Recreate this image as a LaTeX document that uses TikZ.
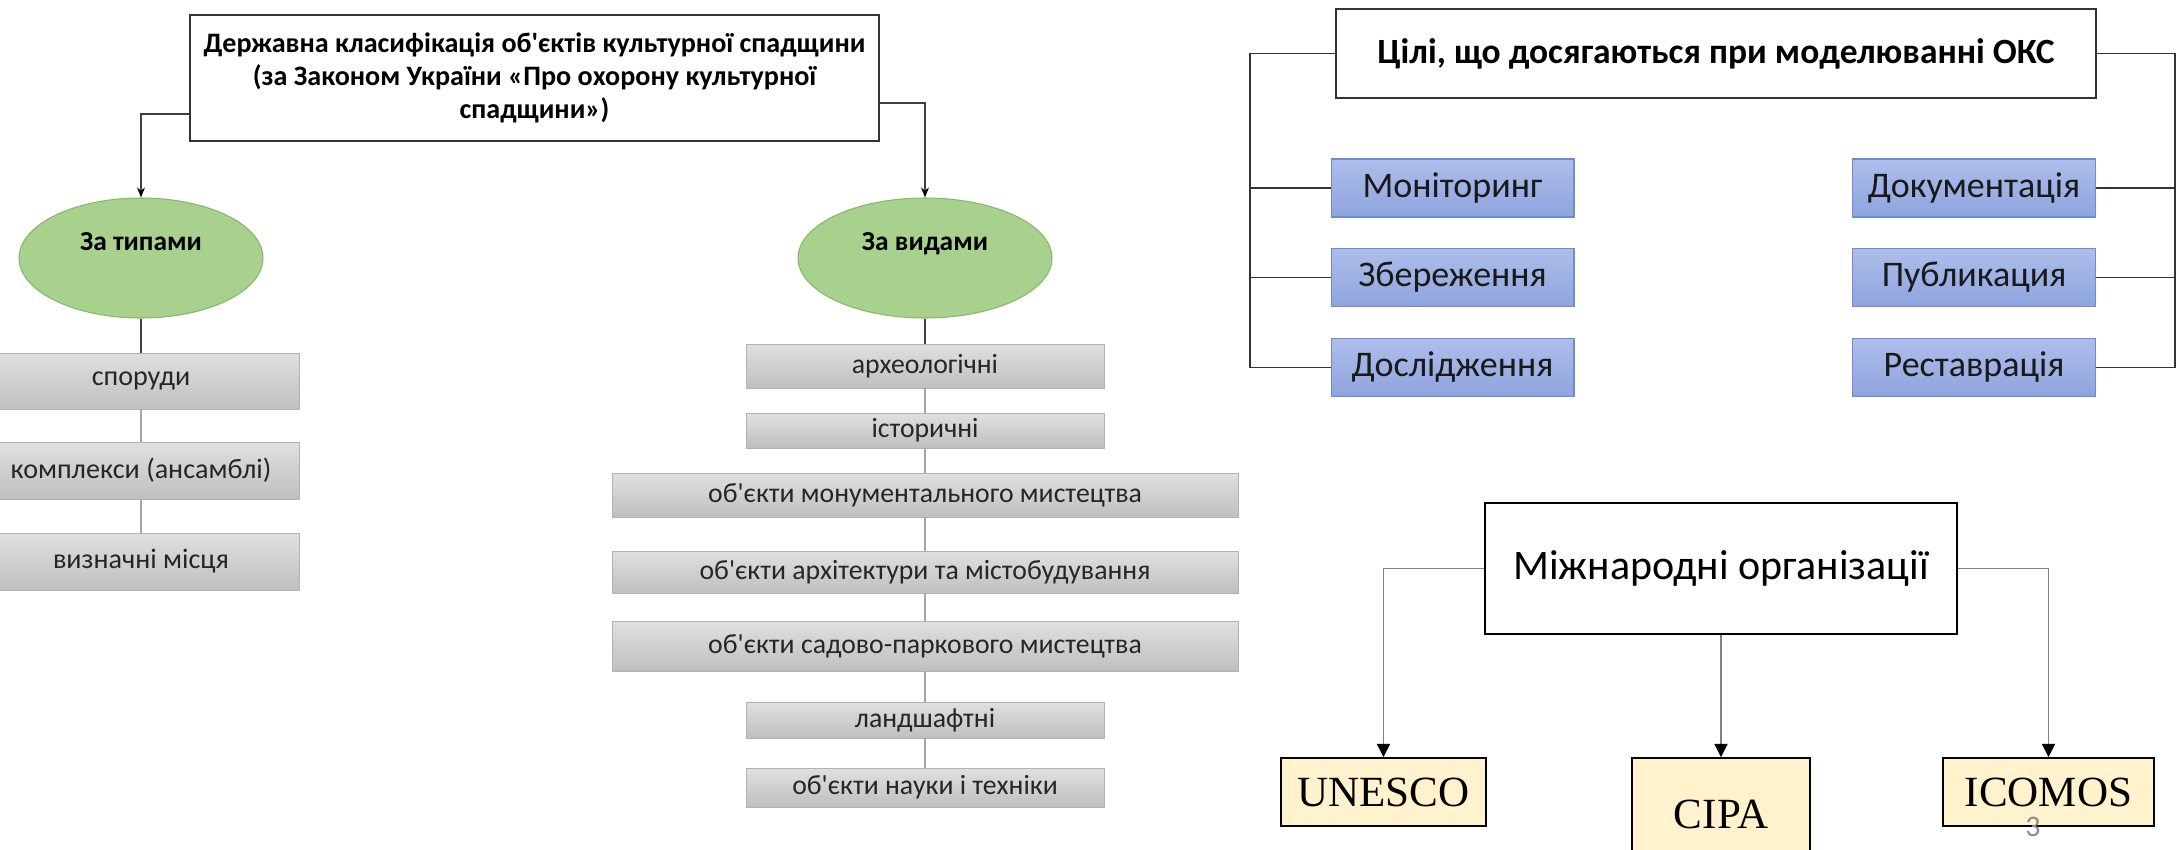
\documentclass[tikz,border=0pt]{standalone}
\usepackage{fontspec}
\setmainfont{Carlito}
\newfontfamily\timesfont{Liberation Serif}
\usetikzlibrary{calc, arrows.meta, positioning, shapes.geometric}
\definecolor{leafgreen}{RGB}{169,209,142}
\definecolor{leafedge}{RGB}{135,182,108}
\definecolor{bluetop}{RGB}{174,190,235}
\definecolor{bluebot}{RGB}{141,164,221}
\definecolor{blueedge}{RGB}{112,138,204}
\definecolor{graytop}{RGB}{224,224,224}
\definecolor{graybot}{RGB}{191,191,191}
\definecolor{cream}{RGB}{255,242,204}

\begin{document}
\begin{tikzpicture}[x=0.02cm, y=-0.02cm,
  headbox/.style={draw=black!80, line width=1.1pt, fill=white, align=center, inner sep=0pt},
  oval/.style={ellipse, draw=leafedge, fill=leafgreen, line width=0.6pt, minimum height=2.4cm, inner sep=0pt, text depth=19pt, font=\bfseries\fontsize{15.6}{18}\selectfont},
  itembox/.style={draw=black!30, line width=0.5pt, top color=graytop, bottom color=graybot, inner sep=0pt, text=black!85},
  aimbox/.style={draw=blueedge, line width=0.6pt, top color=bluetop, bottom color=bluebot, minimum width=4.86cm, minimum height=1.16cm, inner sep=0pt, text=black!90, font=\fontsize{20.5}{24}\selectfont},
  orgbox/.style={draw=black, line width=1.1pt, fill=cream, inner sep=0pt, font=\timesfont\fontsize{24.5}{28}\selectfont},
  linkline/.style={draw=black!75, line width=0.8pt},
  faintline/.style={draw=black!35, line width=0.6pt},
  barline/.style={draw=black!80, line width=1.1pt},
  feedline/.style={draw=black!50, line width=0.7pt},
  smalltip/.style={-{Stealth[length=5.7pt, width=4.5pt, color=black]}},
  bigtip/.style={-{Triangle[length=7.5pt, width=7.5pt, color=black]}}]

  \useasboundingbox (0,0) rectangle (2181,849);

  % classification
  \node[headbox, minimum width=13.78cm, minimum height=2.52cm, font=\bfseries\fontsize{16}{18.8}\selectfont] (law) at (534.5,78)
    {Державна класифікація об\textquotesingle єктів культурної спадщини\\(за Законом України «Про охорону культурної\\спадщини»)};
  \node[oval, minimum width=4.88cm] (types) at (141,258) {За типами};
  \node[oval, minimum width=5.08cm] (kinds) at (925,258) {За видами};
  \draw[linkline, smalltip] ($(law.west)+(0,36)$) -| (types.north);
  \draw[linkline, smalltip] ($(law.east)+(0,25)$) -| (kinds.north);

  \node[itembox, minimum width=6.32cm, minimum height=1.12cm, font=\fontsize{16}{18}\selectfont] (t1) at (141,381) {споруди};
  \node[itembox, minimum width=6.32cm, minimum height=1.14cm, font=\fontsize{16}{18}\selectfont] (t2) at (141,470.5) {комплекси (ансамблі)};
  \node[itembox, minimum width=6.32cm, minimum height=1.14cm, font=\fontsize{16}{18}\selectfont] (t3) at (141,561.5) {визначні місця};
  \draw[linkline] (types.south) -- (t1.north);
  \draw[faintline] (t1) -- (t2);
  \draw[faintline] (t2) -- (t3);

  \node[itembox, minimum width=7.16cm, minimum height=0.88cm, font=\fontsize{15.8}{17}\selectfont] (k1) at (925,366) {археологічні};
  \node[itembox, minimum width=7.16cm, minimum height=0.70cm, font=\fontsize{15.8}{17}\selectfont] (k2) at (925,430.5) {історичні};
  \node[itembox, minimum width=12.52cm, minimum height=0.88cm, font=\fontsize{15.8}{17}\selectfont] (k3) at (925,495) {об\textquotesingle єкти монументального мистецтва};
  \node[itembox, minimum width=12.52cm, minimum height=0.84cm, font=\fontsize{15.8}{17}\selectfont] (k4) at (925,572) {об\textquotesingle єкти архітектури та містобудування};
  \node[itembox, minimum width=12.52cm, minimum height=1.00cm, font=\fontsize{15.8}{17}\selectfont] (k5) at (925,646) {об\textquotesingle єкти садово-паркового мистецтва};
  \node[itembox, minimum width=7.16cm, minimum height=0.72cm, font=\fontsize{15.8}{17}\selectfont] (k6) at (925,720) {ландшафтні};
  \node[itembox, minimum width=7.16cm, minimum height=0.78cm, font=\fontsize{15.8}{17}\selectfont] (k7) at (925,787.5) {об\textquotesingle єкти науки і техніки};
  \draw[linkline] (kinds.south) -- (k1.north);
  \draw[faintline] (k1) -- (k2);
  \draw[faintline] (k2) -- (k3);
  \draw[faintline] (k3) -- (k4);
  \draw[faintline] (k4) -- (k5);
  \draw[faintline] (k5) -- (k6);
  \draw[faintline] (k6) -- (k7);

  % aims
  \node[headbox, minimum width=15.2cm, minimum height=1.78cm, font=\bfseries\fontsize{20.2}{23}\selectfont] (aims) at (1716,53.5)
    {Цілі, що досягаються при моделюванні ОКС};
  \node[aimbox] (mon) at (1452.5,188) {Моніторинг};
  \node[aimbox] (sav) at (1452.5,277.5) {Збереження};
  \node[aimbox] (res) at (1452.5,367.5) {Дослідження};
  \node[aimbox] (doc) at (1974,188) {Документація};
  \node[aimbox] (pub) at (1974,277.5) {Публикация};
  \node[aimbox] (rst) at (1974,367.5) {Реставрація};
  \coordinate (lbar) at (1250,0);
  \coordinate (rbar) at (2175,0);
  \draw[barline] (aims.west) -- (aims.west -| lbar) |- (res.west);
  \draw[barline] (mon.west) -- (mon.west -| lbar);
  \draw[barline] (sav.west) -- (sav.west -| lbar);
  \draw[barline] (aims.east) -- (aims.east -| rbar) |- (rst.east);
  \draw[barline] (doc.east) -- (doc.east -| rbar);
  \draw[barline] (pub.east) -- (pub.east -| rbar);

  % organisations
  \node[draw=black, line width=1.5pt, fill=white, inner sep=0pt, minimum width=9.44cm, minimum height=2.62cm, font=\fontsize{23.9}{27}\selectfont] (intl) at (1721,568.5) {Міжнародні організації};
  \node[orgbox, minimum width=4.1cm, minimum height=1.36cm] (unesco) at (1383.5,792) {UNESCO};
  \node[orgbox, minimum width=3.56cm, minimum height=2.24cm] (cipa) at (1721,814) {CIPA};
  \node[orgbox, minimum width=4.22cm, minimum height=1.36cm] (icomos) at (2048.5,792) {ICOMOS};
  \draw[feedline, bigtip] (intl.west) -| (unesco.north);
  \draw[feedline, bigtip] (intl.south) -- (cipa.north);
  \draw[feedline, bigtip] (intl.east) -| (icomos.north);
  \node[text=black!45, font=\fontsize{17}{20}\selectfont] (pagenum) at (2033,827) {3};
\end{tikzpicture}
\end{document}
